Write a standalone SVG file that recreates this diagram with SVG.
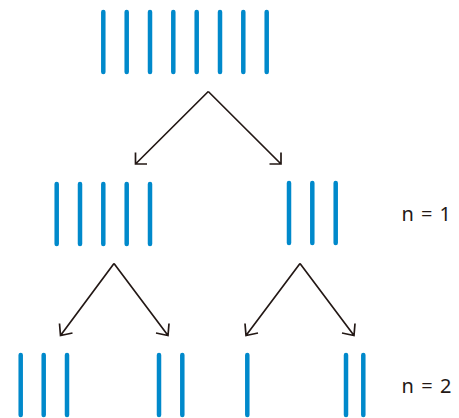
<svg xmlns="http://www.w3.org/2000/svg" width="459" height="418" viewBox="0 0 459 418">
  <style>
    .bar { stroke: #0089cb; stroke-width: 4.5; stroke-linecap: round; fill: none; }
    .edge { stroke: #231815; stroke-width: 1.7; fill: none; stroke-linejoin: miter; }
    .label { font-family: "Noto Sans", "DejaVu Sans", sans-serif; font-size: 20px; fill: #231815; }
  </style>
  <rect width="459" height="418" fill="#ffffff"/>

  <!-- root: eight bars -->
  <g id="root">
    <line class="bar" x1="103.3" y1="12" x2="103.3" y2="72"/>
    <line class="bar" x1="126.7" y1="12" x2="126.7" y2="72"/>
    <line class="bar" x1="150" y1="12" x2="150" y2="72"/>
    <line class="bar" x1="173.3" y1="12" x2="173.3" y2="72"/>
    <line class="bar" x1="196.7" y1="12" x2="196.7" y2="72"/>
    <line class="bar" x1="220" y1="12" x2="220" y2="72"/>
    <line class="bar" x1="243.3" y1="12" x2="243.3" y2="72"/>
    <line class="bar" x1="266.7" y1="12" x2="266.7" y2="72"/>
  </g>

  <!-- level 1 -->
  <g id="l1-left">
    <line class="bar" x1="56.7" y1="184" x2="56.7" y2="244"/>
    <line class="bar" x1="80" y1="184" x2="80" y2="244"/>
    <line class="bar" x1="103.3" y1="184" x2="103.3" y2="244"/>
    <line class="bar" x1="126.7" y1="184" x2="126.7" y2="244"/>
    <line class="bar" x1="150" y1="184" x2="150" y2="244"/>
  </g>
  <g id="l1-right">
    <line class="bar" x1="289" y1="183" x2="289" y2="243"/>
    <line class="bar" x1="312.3" y1="183" x2="312.3" y2="243"/>
    <line class="bar" x1="335.7" y1="183" x2="335.7" y2="243"/>
  </g>

  <!-- level 2 -->
  <g id="l2-a">
    <line class="bar" x1="20.7" y1="355" x2="20.7" y2="415"/>
    <line class="bar" x1="43.7" y1="355" x2="43.7" y2="415"/>
    <line class="bar" x1="67" y1="355" x2="67" y2="415"/>
  </g>
  <g id="l2-b">
    <line class="bar" x1="159" y1="355" x2="159" y2="415"/>
    <line class="bar" x1="182.3" y1="355" x2="182.3" y2="415"/>
  </g>
  <g id="l2-c">
    <line class="bar" x1="247.3" y1="355" x2="247.3" y2="415"/>
  </g>
  <g id="l2-d">
    <line class="bar" x1="346" y1="355" x2="346" y2="415"/>
    <line class="bar" x1="363.3" y1="355" x2="363.3" y2="415"/>
  </g>

  <!-- splitting arrows -->
  <g id="connectors">
    <path class="edge" d="M208.3 91.5 L135.5 164 M135.5 152.5 L135.5 164 L147 164"/>
    <path class="edge" d="M208.3 91.5 L281 164 M281 152.5 L281 164 L269.5 164"/>
    <path class="edge" d="M114 263.5 L60.5 335.5 M59.5 323.5 L60.5 335.5 L72.5 333"/>
    <path class="edge" d="M114 263.5 L168 335.5 M169 323.5 L168 335.5 L156 333"/>
    <path class="edge" d="M300 263.5 L246 335.5 M245 323.5 L246 335.5 L258 333"/>
    <path class="edge" d="M300 263.5 L354 335.5 M355 323.5 L354 335.5 L342 333"/>
  </g>

  <text class="label" x="401.5" y="221" textLength="49.5">n = 1</text>
  <text class="label" x="401.5" y="393" textLength="50">n = 2</text>
</svg>
